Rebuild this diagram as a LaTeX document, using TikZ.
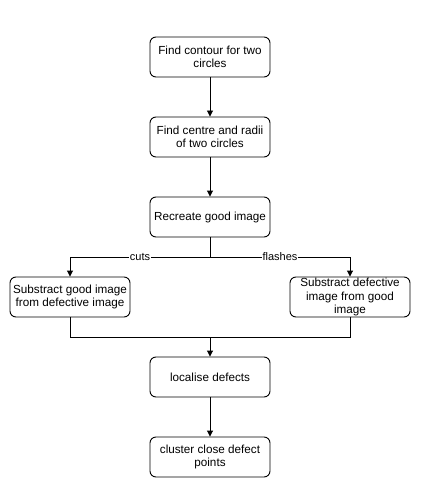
\documentclass[tikz,border=0pt]{standalone}
\usepackage{fontspec}
\setmainfont{Liberation Sans}
\usetikzlibrary{arrows.meta}
\begin{document}
\begin{tikzpicture}[x=1pt,y=-1pt,
  box/.style={draw,rounded corners=6pt,minimum width=120pt,minimum height=40pt,align=center,font=\fontsize{11.7}{13.5}\selectfont,inner sep=1pt,line width=0.9pt},
  conn/.style={line width=0.9pt,-{Triangle[length=6pt,width=6pt]}},
  line/.style={line width=0.9pt},
  lbl/.style={fill=white,inner sep=0.5pt,font=\fontsize{11}{13}\selectfont}]
\useasboundingbox (0,0) rectangle (423,500);
\node[box] (a) at (210,57) {Find contour for two\\circles};
\node[box] (b) at (210,137) {Find centre and radii\\of two circles};
\node[box] (c) at (210,217) {Recreate good image};
\node[box] (l) at (70,297) {Substract good image\\from defective image};
\node[box] (r) at (350,297) {Substract defective\\image from good\\image};
\node[box] (d) at (210,377) {localise defects};
\node[box] (e) at (210,457) {cluster close defect\\points};
\coordinate (s) at (210,257);
\coordinate (j) at (210,337);
\draw[conn] (a) -- (b);
\draw[conn] (b) -- (c);
\draw[line] (c) -- (s);
\draw[conn] (s) -| node[lbl,pos=0.25] {cuts} (l);
\draw[conn] (s) -| node[lbl,pos=0.25] {flashes} (r);
\draw[line] (l) |- (j);
\draw[line] (r) |- (j);
\draw[conn] (j) -- (d);
\draw[conn] (d) -- (e);
\end{tikzpicture}
\end{document}
